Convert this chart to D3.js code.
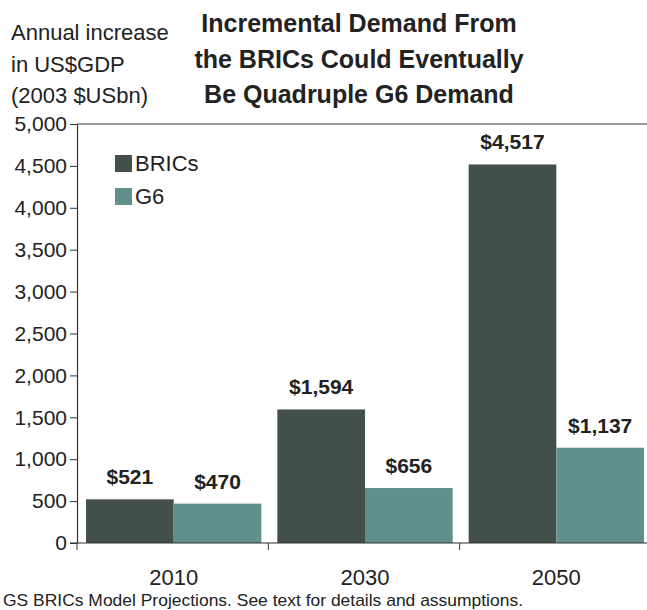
<!DOCTYPE html>
<html>
<head>
<meta charset="utf-8">
<script src="https://cdn.jsdelivr.net/npm/d3@7"></script>
<style>
  body { margin: 0; background: #fff; }
  text { font-family: "Liberation Sans", Arial, sans-serif; fill: #222; }
</style>
</head>
<body>
<div id="chart"></div>
<script>
// data
var years = ["2010", "2030", "2050"];
var series = ["BRICs", "G6"];
var brics = [521, 1594, 4517];
var g6 = [470, 656, 1137];
var yTicks = [0, 500, 1000, 1500, 2000, 2500, 3000, 3500, 4000, 4500, 5000];
var titleLines = ["Incremental Demand From", "the BRICs Could Eventually", "Be Quadruple G6 Demand"];
var unitLines = ["Annual increase", "in US$GDP", "(2003 $USbn)"];
var footer = "GS BRICs Model Projections. See text for details and assumptions.";

var W = 647, H = 610;
var plot = {left: 77, right: 651, top: 124, bottom: 543};

var svg = d3.select("#chart").append("svg")
    .attr("width", W)
    .attr("height", H);

var color = d3.scaleOrdinal()
    .domain(series)
    .range(["#424f4a", "#608f8c"]);

// scales
var x = d3.scaleBand()
    .domain(years)
    .range([plot.left, plot.right])
    .padding(0);

var xSub = d3.scaleBand()
    .domain(series)
    .range([9, x.bandwidth() - 7])
    .padding(0);

var y = d3.scaleLinear()
    .domain([0, 5000])
    .range([plot.bottom, plot.top]);

var rows = years.map(function(yr, i) {
  return {year: yr, values: [{key: "BRICs", value: brics[i]}, {key: "G6", value: g6[i]}]};
});

// top border line
svg.append("line")
    .attr("x1", plot.left).attr("x2", W)
    .attr("y1", y(5000)).attr("y2", y(5000))
    .attr("stroke", "#333").attr("stroke-width", 1.2);

// bars
var groups = svg.append("g")
  .selectAll("g")
  .data(rows)
  .enter().append("g")
    .attr("transform", function(d) { return "translate(" + x(d.year) + ",0)"; });

groups.selectAll("rect")
  .data(function(d) { return d.values; })
  .enter().append("rect")
    .attr("x", function(d) { return xSub(d.key); })
    .attr("y", function(d) { return y(d.value); })
    .attr("width", xSub.bandwidth())
    .attr("height", function(d) { return y(0) - y(d.value); })
    .attr("fill", function(d) { return color(d.key); });

groups.selectAll(".val")
  .data(function(d) { return d.values; })
  .enter().append("text")
    .attr("class", "val")
    .attr("x", function(d) { return xSub(d.key) + xSub.bandwidth() / 2; })
    .attr("y", function(d) { return y(d.value) - 15; })
    .attr("text-anchor", "middle")
    .style("font-size", "21px")
    .style("font-weight", "bold")
    .text(function(d) { return "$" + d3.format(",")(d.value); });

// y axis
var yAxis = svg.append("g")
    .attr("transform", "translate(" + plot.left + ",0)")
    .call(d3.axisLeft(y).tickValues(yTicks).tickFormat(d3.format(",")).tickSize(7).tickSizeOuter(0));
yAxis.select(".domain").attr("stroke", "#333").attr("stroke-width", 1.2);
yAxis.selectAll(".tick line").attr("stroke", "#333");
yAxis.selectAll("text")
    .attr("x", -10)
    .style("font-size", "21px")
    .style("font-family", "'Liberation Sans', Arial, sans-serif")
    .attr("fill", "#333");

// x axis, ticks on the category boundaries
svg.append("line")
    .attr("x1", plot.left - 7).attr("x2", W)
    .attr("y1", y(0)).attr("y2", y(0))
    .attr("stroke", "#333").attr("stroke-width", 1.2);

svg.append("g").selectAll("line")
  .data(years)
  .enter().append("line")
    .attr("x1", function(d) { return x(d); })
    .attr("x2", function(d) { return x(d); })
    .attr("y1", y(0)).attr("y2", y(0) + 7)
    .attr("stroke", "#333");

svg.append("g").selectAll("text")
  .data(years)
  .enter().append("text")
    .attr("x", function(d) { return x(d) + xSub(series[1]); })
    .attr("y", 585)
    .attr("text-anchor", "middle")
    .style("font-size", "22px")
    .attr("fill", "#333")
    .text(function(d) { return d; });

// legend
var legend = svg.append("g").selectAll("g")
  .data(series)
  .enter().append("g")
    .attr("transform", function(d, i) { return "translate(115," + (155 + i * 33) + ")"; });
legend.append("rect")
    .attr("width", 17).attr("height", 17)
    .attr("fill", function(d) { return color(d); });
legend.append("text")
    .attr("x", 20).attr("y", 16)
    .style("font-size", "22px")
    .attr("fill", "#333")
    .text(function(d) { return d; });

// unit label
svg.append("g").selectAll("text")
  .data(unitLines)
  .enter().append("text")
    .attr("x", 11)
    .attr("y", function(d, i) { return 40 + i * 31.5; })
    .style("font-size", "22px")
    .attr("fill", "#333")
    .text(function(d) { return d; });

// title
svg.append("g").selectAll("text")
  .data(titleLines)
  .enter().append("text")
    .attr("x", 359)
    .attr("y", function(d, i) { return 32 + i * 35.5; })
    .attr("text-anchor", "middle")
    .style("font-size", "25px")
    .style("font-weight", "bold")
    .text(function(d) { return d; });

// source note
svg.append("text")
    .attr("x", 3)
    .attr("y", 606)
    .attr("textLength", 520)
    .attr("lengthAdjust", "spacingAndGlyphs")
    .style("font-size", "17px")
    .attr("fill", "#222")
    .text(footer);
</script>
</body>
</html>
